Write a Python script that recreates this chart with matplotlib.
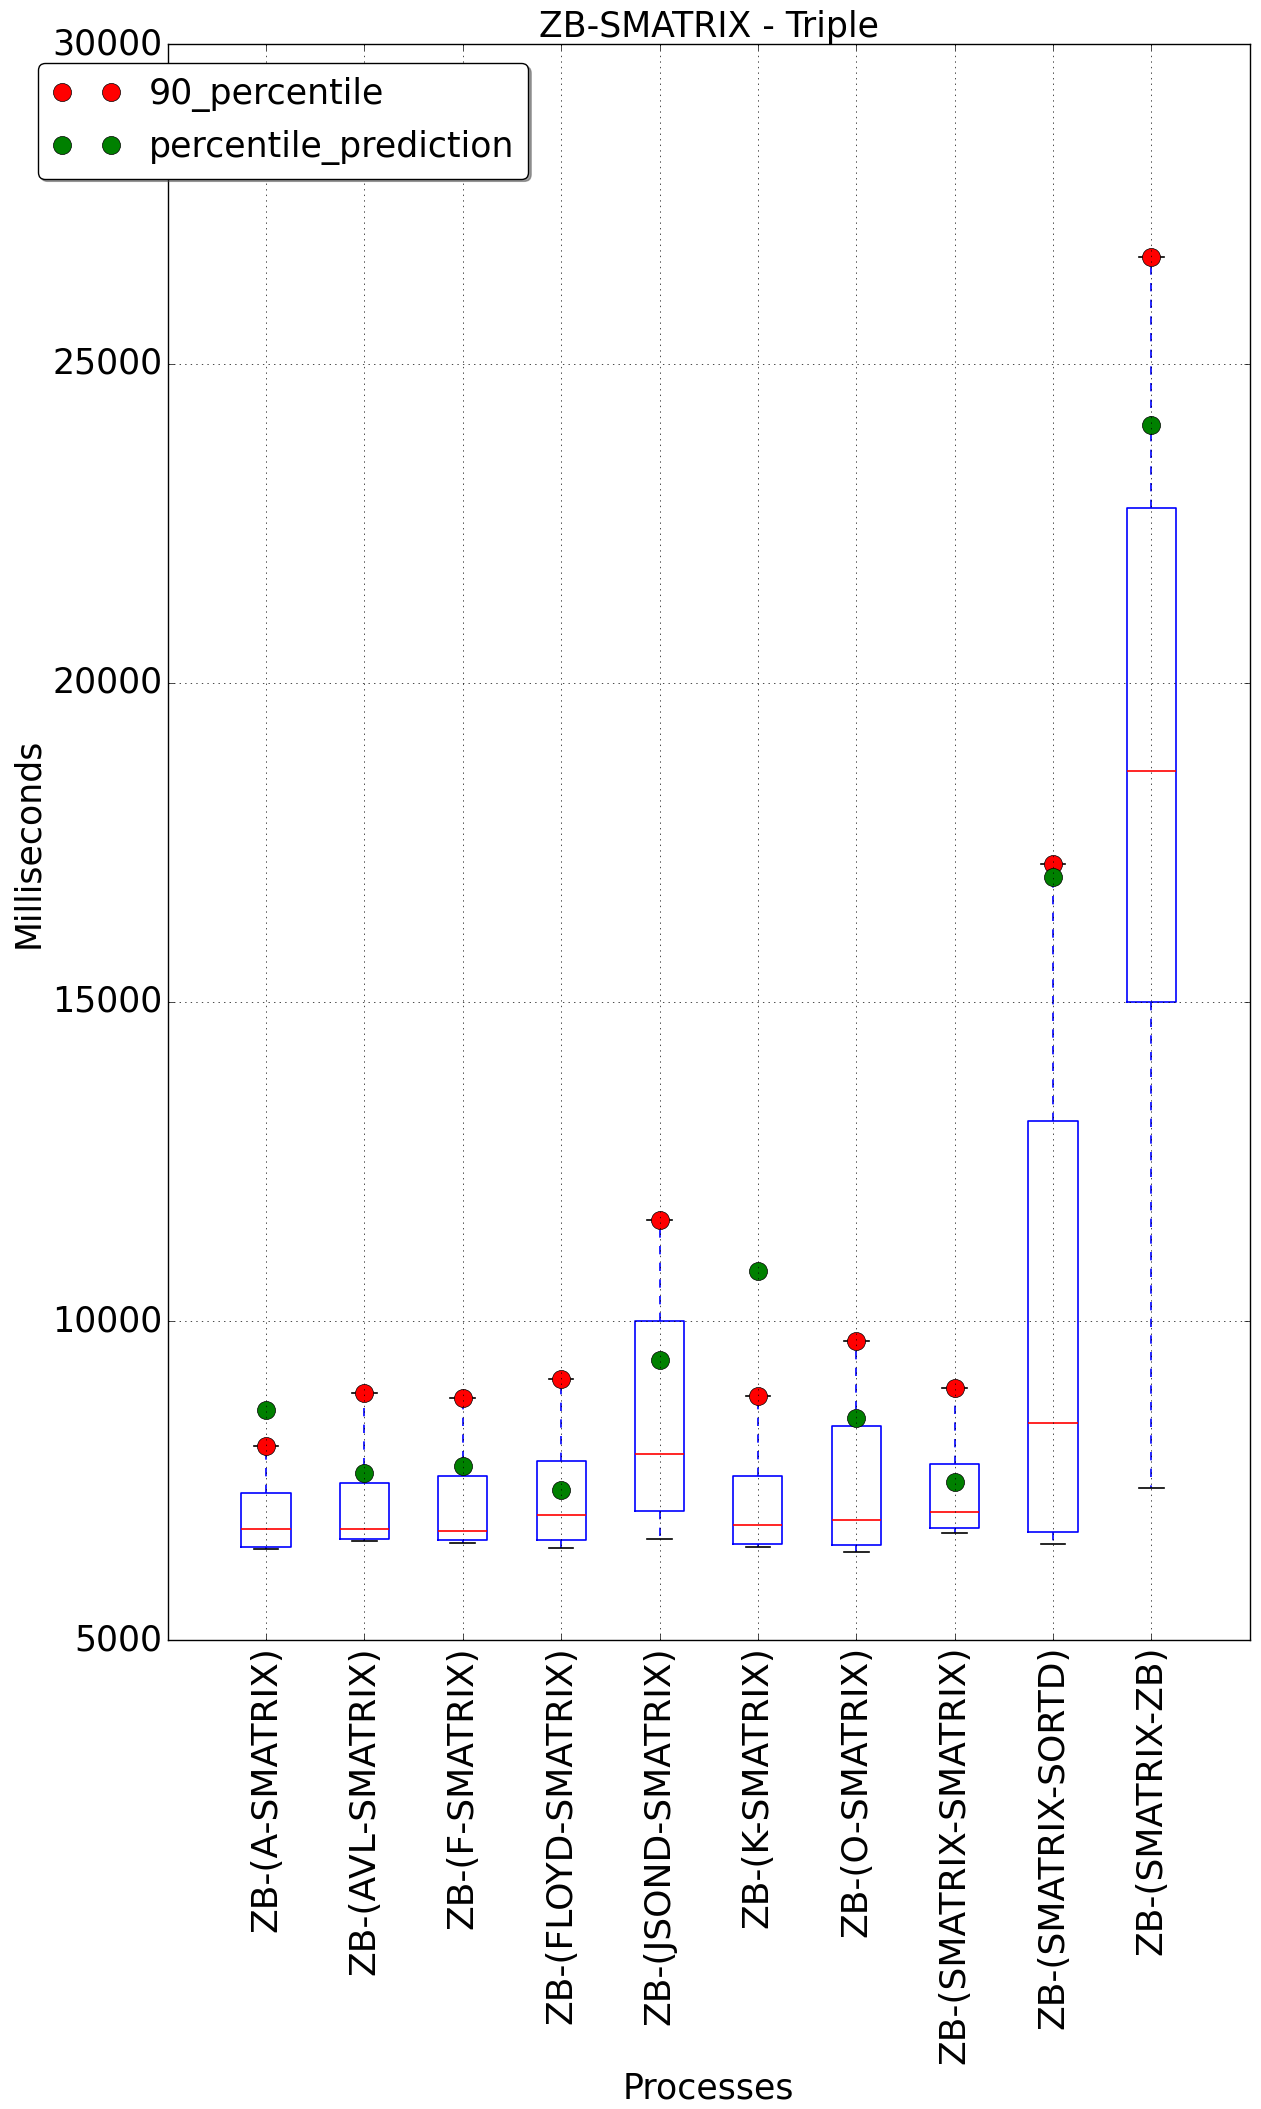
import matplotlib
matplotlib.use('Agg')
import matplotlib.pyplot as plt

plt.style.use('classic')
plt.rcParams['font.family'] = ['DejaVu Sans']
plt.rcParams['savefig.facecolor'] = 'white'
plt.rcParams['figure.facecolor'] = 'white'

# data
processes = ['ZB-(A-SMATRIX)', 'ZB-(AVL-SMATRIX)', 'ZB-(F-SMATRIX)', 'ZB-(FLOYD-SMATRIX)',
             'ZB-(JSOND-SMATRIX)', 'ZB-(K-SMATRIX)', 'ZB-(O-SMATRIX)',
             'ZB-(SMATRIX-SMATRIX)', 'ZB-(SMATRIX-SORTD)', 'ZB-(SMATRIX-ZB)']
whisker_low = [6430, 6550, 6530, 6450, 6590, 6470, 6380, 6680, 6510, 7390]
q1 = [6470, 6590, 6570, 6570, 7030, 6510, 6490, 6760, 6700, 15000]
median = [6740, 6740, 6720, 6970, 7920, 6800, 6890, 7010, 8400, 18610]
q3 = [7310, 7460, 7580, 7810, 10000, 7580, 8360, 7770, 13140, 22740]
percentile_90 = [8050, 8870, 8800, 9100, 11580, 8820, 9690, 8950, 17160, 26670]
percentile_prediction = [8610, 7620, 7730, 7350, 9390, 10780, 8490, 7480, 16950, 24040]

stats = []
for i in range(len(processes)):
    stats.append({'whislo': whisker_low[i], 'q1': q1[i], 'med': median[i],
                  'q3': q3[i], 'whishi': percentile_90[i], 'fliers': [],
                  'label': processes[i]})

pos = list(range(1, len(processes) + 1))

fig = plt.figure(figsize=(12.61, 21.09), dpi=100)
ax = fig.add_axes([0.133, 0.2222, 0.858, 0.7568])

ax.bxp(stats, positions=pos, widths=0.5, showfliers=False,
       boxprops=dict(color='b', linewidth=1.2),
       whiskerprops=dict(color='b', linestyle='--', linewidth=1.2),
       capprops=dict(color='k', linewidth=1.2),
       medianprops=dict(color='r', linewidth=1.2))

ax.plot(pos, percentile_90, 'ro', markersize=13, label='90_percentile')
ax.plot(pos, percentile_prediction, 'go', markersize=13, label='percentile_prediction')

ax.set_xlim(0, 11)
ax.set_ylim(5000, 30000)
ax.set_yticks([5000, 10000, 15000, 20000, 25000, 30000])
ax.set_xticks(pos)
ax.set_xticklabels(processes, rotation=90, fontsize=26)
ax.tick_params(axis='y', labelsize=25)
ax.grid(True, linestyle=':', color='k')

ax.set_title('ZB-SMATRIX - Triple', fontsize=25)
ax.set_xlabel('Processes', fontsize=25)
ax.set_ylabel('Milliseconds', fontsize=25)

ax.legend(loc='upper left', bbox_to_anchor=(-0.12, 0.988), borderaxespad=0,
          numpoints=2, fancybox=True, shadow=True, fontsize=25)

fig.savefig('out.png', dpi=100)
